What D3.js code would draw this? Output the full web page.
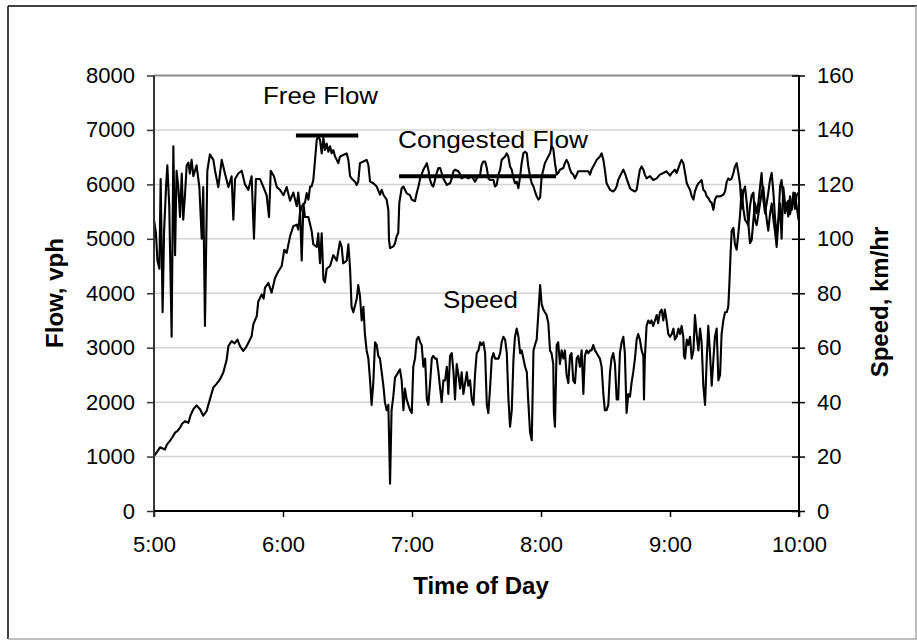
<!DOCTYPE html>
<html><head><meta charset="utf-8">
<script src="https://cdn.jsdelivr.net/npm/d3@7"></script>
<style>
body{margin:0;background:#fff}
svg{display:block}
text{font-family:"Liberation Sans",Arial,Helvetica,sans-serif;fill:#000}
</style>
</head><body>
<svg id="chart" width="917" height="641"></svg>
<script>
// ---------------- DATA ----------------
// time axis: minutes after 5:00
const timeTickMin = [0, 60, 120, 180, 240, 300];
const timeLabels  = ["5:00", "6:00", "7:00", "8:00", "9:00", "10:00"];
const flowTicks   = [0, 1000, 2000, 3000, 4000, 5000, 6000, 7000, 8000];
const speedTicks  = [0, 20, 40, 60, 80, 100, 120, 140, 160];

// Flow, vph  [minute after 5:00, vph]
const flowSeries = [
[0,1010],[1.5,1090],[2.8,1170],[5.1,1130],[6,1220],[7.4,1290],[8.5,1350],[9.8,1440],[11,1470],[12.1,1530],
[13,1600],[14.4,1650],[16,1620],[17,1760],[18.3,1870],[19.8,1940],[21.4,1870],[22.9,1750],[24.5,1840],[26,2050],
[27.6,2270],[29,2330],[30.7,2420],[32.2,2540],[33.8,2780],[34.6,3030],[36.1,3120],[37.5,3080],[38.8,3150],[40,3030],
[41.5,2940],[43,3020],[43.9,3090],[45.4,3210],[46.2,3430],[47.8,3580],[48.5,3850],[50.1,3980],[51,3900],[51.6,4100],
[53.2,4190],[54.7,4010],[56.3,4280],[57.8,4400],[59.4,4500],[60.6,4800],[61.7,4740],[63.3,5050],[64.8,5230],[66.4,5260],
[67.1,5170],[67.9,5470],[68.7,5600],[70.2,5660],[71,5840],[71.8,5720],[72.6,5960],[73.3,5960],[74.1,6080],[74.9,6450],
[75.7,6820],[76.4,6880],[77.2,6820],[78,6570],[78.8,6850],[79.5,6630],[80.3,6750],[81.1,6600],[81.9,6700],[82.6,6570],
[83.4,6630],[84.2,6510],[85,6450],[85.7,6390],[86.5,6510],[88,6540],[89.6,6570],[90.4,6450],[91.2,6150],[91.9,6110],
[93.5,6050],[94.3,5990],[95,6050],[95.8,6390],[97.4,6420],[98.9,6450],[99.7,6360],[100.5,6050],[102,6020],[103.6,5960],
[105.1,5810],[105.9,5900],[106.7,5810],[108.2,5720],[109,5530],[109.3,4980],[109.8,4830],[111.3,4860],[112.1,4920],[112.9,5050],
[113.6,5110],[114.1,5660],[115.2,5930],[116,5960],[117.5,5840],[119.1,5800],[119.9,5720],[121.4,5690],[122.2,5840],[123,5960],
[123.8,6110],[125.3,6270],[126.1,6330],[126.9,6390],[127.6,6270],[128.4,6080],[129.2,5990],[129.9,5960],[130.7,6080],[131.5,6210],
[132.3,6300],[133.1,6300],[133.8,6210],[134.6,6110],[136.2,5990],[137.7,6020],[138.5,6110],[139.3,6240],[140,6270],[141.6,6240],
[142.4,6180],[143.1,6110],[144.7,6150],[146.2,6110],[147.8,6150],[149.3,6050],[150.1,6110],[151.7,6180],[152.4,6360],[153.2,6420],
[154,6420],[154.8,6300],[155.5,6110],[156.3,6080],[157.9,6080],[158.6,5960],[159.4,5990],[160.2,6180],[161,6270],[161.7,6450],
[163.3,6510],[164.1,6570],[164.8,6510],[165.6,6330],[166.4,6270],[167.2,6110],[167.9,6020],[168.7,6050],[169.5,5930],[170.3,6150],
[171,6390],[171.8,6570],[172.6,6600],[173.4,6570],[174.1,6330],[174.9,6150],[175.7,6020],[176.5,5960],[177.2,5870],[178,5780],
[178.8,5720],[179.6,5760],[180.3,6140],[181.8,6390],[182.6,6450],[183.4,6510],[184.2,6570],[184.9,6700],[185.7,6660],[186.5,6390],
[187.3,6180],[188,6210],[188.8,6270],[190.4,6300],[191.1,6390],[191.9,6450],[192.7,6390],[193.5,6270],[194.2,6210],[195,6180],
[195.8,6110],[196.6,6180],[197.3,6240],[198.9,6240],[200.4,6240],[202,6240],[202.8,6180],[203.5,6270],[205.1,6390],[205.9,6450],
[207.4,6510],[208.2,6570],[209,6450],[209.7,6270],[210.5,6020],[211.3,5960],[212.1,5900],[213.6,5870],[214.4,5900],[215.2,5960],
[215.9,6080],[216.7,6150],[217.5,6210],[218.3,6270],[219,6210],[219.8,6110],[220.6,6020],[221.4,5930],[222.1,5900],[223.7,5870],
[224.5,5900],[225.2,6080],[226,6270],[226.8,6330],[227.6,6270],[228.3,6180],[229.1,6110],[230.7,6150],[232.2,6080],[233.8,6110],
[235.3,6180],[236.9,6210],[238.4,6240],[240,6160],[240.8,6210],[241.6,6240],[242.3,6270],[243.1,6210],[243.9,6300],[244.7,6390],
[245.4,6450],[246.2,6390],[247,6210],[247.8,6020],[248.5,5960],[249.3,5900],[250.1,5780],[250.9,5720],[251.6,5870],[252.4,5960],
[253.2,6020],[254,6050],[254.7,6080],[255.5,5900],[256.3,5870],[257.1,5780],[257.8,5750],[258.6,5690],[259.4,5660],[260.2,5530],
[260.9,5720],[261.7,5780],[263.3,5780],[264.8,5810],[265.6,5870],[266.4,6050],[267.1,6110],[267.9,6080],[268.7,6110],[269.5,6210],
[270.2,6330],[271,6390],[271.8,6210],[272.6,5990],[273.3,5560],[274.1,5870],[274.9,5960],[275.7,5660],[276.4,5290],[277.2,4920],
[278,4980],[278.8,5350],[279.5,5660],[280.3,5470],[281.1,5660],[281.9,5960],[282.6,6210],[283.4,5720],[284.2,5470],[285,5660],
[285.7,5840],[286.5,6080],[287.3,6210],[288.1,5840],[288.8,5410],[289.6,5050],[290.4,5350],[291.2,5960],[291.9,6080],[292.7,5720],
[293.5,5470],[294.3,5660],[295,5410],[295.8,5780],[296.6,5530],[297.4,5720],[298.1,5840],[298.9,5600],[299.8,5350]
];

// Speed, km/hr  [minute after 5:00, km/hr]
const speedSeries = [
[0,107],[0.9,102],[1.6,92],[2.5,89],[3.1,122],[4,73],[4.7,103],[5.6,119],[6.2,127],[7.1,112],
[8.2,64],[9,134],[9.8,94],[10.5,125],[11.3,119],[12.1,108],[12.9,124],[13.6,107],[14.4,116],[15.2,127],
[16,128],[16.7,124],[17.5,129],[18.3,123],[19.8,127],[21.1,119],[22.2,100],[22.9,119],[23.7,68],[24.8,125],
[26,131],[27.6,129],[28.4,125],[29.9,119],[31.5,129],[33,124],[34.6,119],[36.1,123],[36.9,107],[37.7,122],
[39.2,124],[40.8,125],[42.3,120],[43.9,118],[45.4,123],[46.5,100],[47.4,122],[49.3,122],[50.9,119],[52.4,116],
[53.5,108],[54.3,125],[55.8,123],[57.1,119],[58.6,118],[60.2,116],[61.7,119],[63.3,114],[64.8,117],[66.4,112],
[67.1,117],[67.9,111],[68.7,92],[69.5,113],[70.2,108],[71.8,108],[73.3,103],[74.1,98],[75.7,97],[76.4,102],
[77.2,91],[78,102],[78.8,85],[79.5,84],[80.3,89],[81.9,90],[83.4,94],[85,92],[86.5,99],[87.3,97],
[88,91],[89.6,92],[90.4,98],[91.2,89],[91.9,75],[92.7,73],[94.3,78],[95,83],[95.8,79],[96.6,70],
[97.4,75],[98.1,65],[98.9,59],[99.7,56],[100.5,48],[101.2,39],[102,47],[102.8,62],[103.6,61],[104.3,57],
[105.1,56],[105.9,51],[106.7,46],[107.4,40],[108.2,37],[109,39],[109.8,10],[110.5,37],[111.3,42],[112.1,49],
[112.9,50],[113.6,51],[114.4,52],[115.2,48],[116,37],[116.7,45],[117.5,41],[118.3,39],[119.1,37],[119.9,36],
[120.6,53],[121.4,56],[122.2,63],[123,64],[123.8,62],[124.5,61],[125.3,53],[126.1,56],[126.9,41],[127.6,39],
[128.4,47],[129.2,56],[129.9,57],[130.7,56],[131.5,56],[132.3,51],[133.1,45],[133.8,40],[134.6,48],[135.4,48],
[136.2,53],[136.9,43],[137.7,57],[138.5,58],[139.3,51],[140,41],[140.8,54],[141.6,50],[142.4,45],[143.1,51],
[143.9,43],[144.7,47],[145.5,51],[146.2,46],[147,48],[147.8,41],[148.6,39],[149.3,50],[150.1,58],[150.9,59],
[151.7,62],[152.4,61],[153.2,62],[154,58],[154.8,39],[155.5,36],[156.3,45],[157.1,56],[157.9,58],[158.6,56],
[159.4,56],[160.2,56],[161,58],[161.7,62],[162.5,64],[163.3,63],[164.1,58],[164.8,42],[165.6,31],[166.4,37],
[167.2,56],[167.9,64],[168.7,67],[169.5,64],[170.3,58],[171,59],[171.8,56],[172.6,53],[173.4,51],[174.1,40],
[174.9,29],[175.7,26],[176.5,59],[177.2,61],[178,63],[178.8,73],[179.6,83],[180.3,76],[181.1,74],[181.8,73],
[182.6,72],[183.4,69],[184.2,59],[184.9,58],[185.7,54],[186,36],[186.5,31],[187.3,61],[188,62],[188.8,54],
[189.6,59],[190.4,56],[191.1,59],[191.9,50],[192.7,47],[193.5,57],[194.2,58],[195,48],[195.8,47],[196.6,56],
[197.3,57],[198.1,53],[198.9,59],[199.7,43],[200.4,57],[201.2,59],[202,58],[202.8,59],[203.5,59],[204.3,61],
[205.1,59],[205.9,58],[206.6,57],[207.4,56],[208.2,53],[209,43],[209.7,37],[210.5,37],[211.3,39],[212.1,51],
[212.8,56],[213.6,58],[214.4,54],[215.2,41],[215.9,41],[216.7,58],[217.5,62],[218.3,64],[219,58],[219.8,36],
[220.6,43],[221.4,42],[222.1,47],[222.9,51],[223.7,56],[224.5,63],[225.2,65],[226,63],[226.8,59],[227.6,57],
[227.9,41],[228.3,56],[229.1,68],[229.9,70],[230.7,69],[231.4,70],[232.2,68],[233,70],[233.8,72],[234.5,69],
[235.3,73],[236.1,74],[236.9,70],[237.6,74],[238.4,70],[239.2,65],[240,64],[240.8,65],[241.6,67],[242.3,63],
[243.1,64],[243.9,67],[244.7,65],[245.4,68],[246.2,64],[246.5,57],[247,56],[247.8,63],[248.5,61],[249.3,64],
[250.1,56],[250.9,59],[251.6,72],[252.4,65],[253.2,59],[254,67],[254.7,62],[255.5,46],[256.3,39],[257.1,56],
[257.8,68],[258.6,58],[259.4,46],[260.2,56],[260.9,64],[261.7,67],[262.5,48],[263.3,50],[264,65],[264.8,70],
[265.6,73],[266.4,73],[267.1,75],[267.6,83],[268.2,95],[268.7,103],[269.5,104],[270.2,98],[271,96],[271.8,102],
[272.6,109],[273.3,118],[274.1,111],[274.9,107],[275.7,106],[276.4,105],[277.2,112],[278,116],[278.8,117],[279.5,107],
[280.3,105],[281.1,109],[281.9,113],[282.6,117],[283.4,119],[284.2,112],[285,107],[285.7,103],[286.5,109],[287.3,113],
[288.1,107],[288.8,103],[289.6,97],[290.4,106],[291.2,113],[291.9,100],[292.7,119],[293.5,113],[294.3,111],[295,114],
[295.8,109],[296.6,112],[297.4,117],[298.1,111],[298.9,116],[299.8,117]
];

// reference levels (vph) drawn as thick bars
const freeFlowBar      = [[66, 6900], [95, 6900]];
const congestedFlowBar = [[114, 6150], [187, 6150]];

// annotations placed in data coordinates [minute, vph]
const annotations = [
  {text: "Free Flow",      at: [50.7, 7477], width: 115},
  {text: "Congested Flow", at: [113.5, 6668], width: 190},
  {text: "Speed",          at: [134.4, 3729], width: 75}
];

// ---------------- LAYOUT ----------------
const W = 917, H = 641;
const plot = {left: 154, right: 799, top: 75.5, bottom: 511};

const svg = d3.select("#chart");

const x = d3.scaleLinear().domain([0, 300]).range([plot.left, plot.right]);
const yFlow = d3.scaleLinear().domain([0, 8000]).range([plot.bottom, plot.top]);
const ySpeed = d3.scaleLinear().domain([0, 160]).range([plot.bottom, plot.top]);

// outer frame
svg.append("line").attr("x1", 8).attr("x2", W).attr("y1", 6).attr("y2", 6).attr("stroke", "#000").attr("stroke-width", 1.5);
svg.append("line").attr("x1", 8).attr("x2", 8).attr("y1", 6).attr("y2", 639).attr("stroke", "#000").attr("stroke-width", 1.5);
svg.append("line").attr("x1", 8).attr("x2", W).attr("y1", 639).attr("y2", 639).attr("stroke", "#aaa").attr("stroke-width", 1.5);
svg.append("line").attr("x1", 916).attr("x2", 916).attr("y1", 6).attr("y2", 639).attr("stroke", "#aaa").attr("stroke-width", 1.5);

// gridlines
svg.append("g").selectAll("line")
  .data(flowTicks.filter(v => v > 0 && v < 8000))
  .join("line")
  .attr("x1", plot.left).attr("x2", plot.right)
  .attr("y1", d => yFlow(d)).attr("y2", d => yFlow(d))
  .attr("stroke", "#d4d4d4").attr("stroke-width", 1.5);

// top border of plot area
svg.append("line")
  .attr("x1", plot.left).attr("x2", plot.right)
  .attr("y1", yFlow(8000)).attr("y2", yFlow(8000))
  .attr("stroke", "#8a8a8a").attr("stroke-width", 2);

// data lines
const flowLine = d3.line().x(d => x(d[0])).y(d => yFlow(d[1]));
const speedLine = d3.line().x(d => x(d[0])).y(d => ySpeed(d[1]));

svg.append("path").datum(speedSeries).attr("d", speedLine)
  .attr("fill", "none").attr("stroke", "#000").attr("stroke-width", 2.1).attr("stroke-linejoin", "round");
svg.append("path").datum(flowSeries).attr("d", flowLine)
  .attr("fill", "none").attr("stroke", "#000").attr("stroke-width", 2.1).attr("stroke-linejoin", "round");

// reference bars
[freeFlowBar, congestedFlowBar].forEach(b => {
  svg.append("path").datum(b).attr("d", flowLine)
    .attr("fill", "none").attr("stroke", "#000").attr("stroke-width", 4);
});

// axes
const fontTick = "22px";
const plain = d3.format("d");

const gLeft = svg.append("g").attr("transform", `translate(${plot.left},0)`)
  .call(d3.axisLeft(yFlow).tickValues(flowTicks).tickFormat(plain).tickSize(7).tickPadding(12).tickSizeOuter(0));
gLeft.select(".domain").remove();
gLeft.selectAll(".tick line").attr("stroke", "#333").attr("stroke-width", 1.5);
gLeft.selectAll(".tick text").style("font-size", fontTick).attr("fill", "#000");

const gRight = svg.append("g").attr("transform", `translate(${plot.right},0)`)
  .call(d3.axisRight(ySpeed).tickValues(speedTicks).tickFormat(plain).tickSize(6).tickPadding(12).tickSizeOuter(0));
gRight.select(".domain").remove();
gRight.selectAll(".tick line").attr("x1", -7).attr("stroke", "#000").attr("stroke-width", 1.5);
gRight.selectAll(".tick text").style("font-size", fontTick).attr("fill", "#000");

const gBottom = svg.append("g").attr("transform", `translate(0,${plot.bottom})`)
  .call(d3.axisBottom(x).tickValues(timeTickMin).tickFormat((d, i) => timeLabels[i]).tickSize(6).tickPadding(19).tickSizeOuter(0));
gBottom.select(".domain").remove();
gBottom.selectAll(".tick line").attr("stroke", "#000").attr("stroke-width", 1.5);
gBottom.selectAll(".tick text").style("font-size", fontTick).attr("fill", "#000");

// axis lines
svg.append("line").attr("x1", plot.left).attr("x2", plot.left).attr("y1", plot.top).attr("y2", plot.bottom + 6)
  .attr("stroke", "#333").attr("stroke-width", 2);
svg.append("line").attr("x1", plot.right).attr("x2", plot.right).attr("y1", plot.top).attr("y2", plot.bottom + 6)
  .attr("stroke", "#000").attr("stroke-width", 2);
svg.append("line").attr("x1", plot.left).attr("x2", plot.right).attr("y1", plot.bottom).attr("y2", plot.bottom)
  .attr("stroke", "#000").attr("stroke-width", 2);

// axis titles
svg.append("text").attr("x", 481).attr("y", 594).attr("text-anchor", "middle")
  .style("font-size", "24px").style("font-weight", "bold").text("Time of Day");
svg.append("text").attr("transform", "translate(63,293) rotate(-90)").attr("text-anchor", "middle")
  .style("font-size", "24px").style("font-weight", "bold").text("Flow, vph");
svg.append("text").attr("transform", "translate(888,302) rotate(-90)").attr("text-anchor", "middle")
  .style("font-size", "24px").style("font-weight", "bold").text("Speed, km/hr");

// annotations
annotations.forEach(a => {
  svg.append("text")
    .attr("x", x(a.at[0])).attr("y", yFlow(a.at[1]))
    .attr("textLength", a.width).attr("lengthAdjust", "spacingAndGlyphs")
    .style("font-size", "24.5px").text(a.text);
});
</script>
</body></html>
